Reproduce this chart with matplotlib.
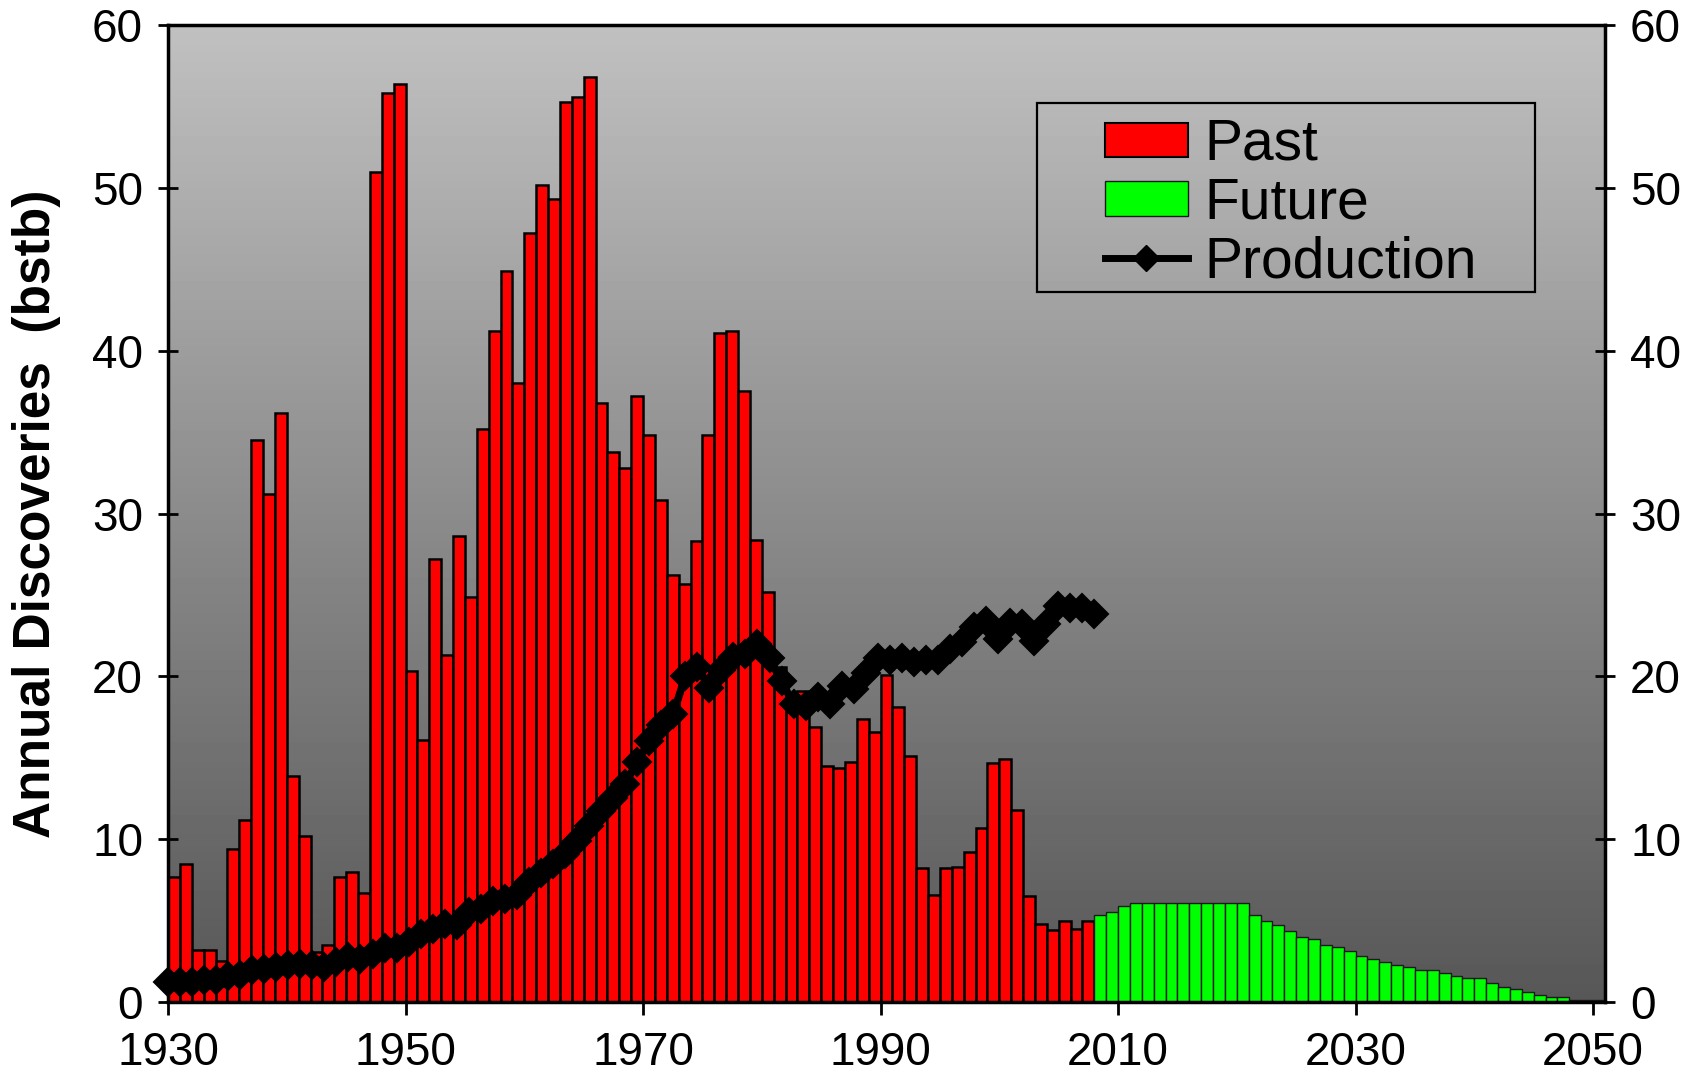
import numpy as np
import matplotlib
matplotlib.use('Agg')
import matplotlib.pyplot as plt
from matplotlib.patches import Rectangle, Patch
from matplotlib.lines import Line2D

plt.rcParams['font.family'] = ['Liberation Sans', 'DejaVu Sans']

# ---------------- data ----------------
past_years = list(range(1930, 2008))
past_values = [
    7.7, 8.5, 3.2, 3.2, 2.5, 9.4, 11.2, 34.5, 31.2, 36.2,
    13.9, 10.2, 3.1, 3.5, 7.7, 8.0, 6.7, 51.0, 55.8, 56.4,
    20.3, 16.1, 27.2, 21.3, 28.6, 24.9, 35.2, 41.2, 44.9, 38.0,
    47.2, 50.2, 49.3, 55.3, 55.6, 56.8, 36.8, 33.8, 32.8, 37.2,
    34.8, 30.8, 26.2, 25.7, 28.3, 34.8, 41.1, 41.2, 37.5, 28.4,
    25.2, 20.6, 18.9, 19.1, 16.9, 14.5, 14.4, 14.75, 17.4, 16.6,
    20.1, 18.1, 15.1, 8.2, 6.6, 8.2, 8.3, 9.2, 10.7, 14.7,
    14.9, 11.8, 6.5, 4.8, 4.4, 5.0, 4.5, 5.0,
]
future_years = list(range(2008, 2051))
future_values = [
    5.35, 5.55, 5.9,
    6.05, 6.05, 6.05, 6.05, 6.05, 6.05, 6.05, 6.05, 6.05, 6.05,
    5.35, 5.0, 4.7, 4.35, 4.0, 3.85, 3.5, 3.35, 3.15, 2.8,
    2.65, 2.45, 2.3, 2.15, 1.95, 1.95, 1.8, 1.6, 1.45, 1.45,
    1.15, 0.95, 0.8, 0.6, 0.45, 0.3, 0.3, 0.1, 0.1, 0.1,
]
prod_years = list(range(1930, 2008))
prod_values = [
    1.25, 1.25, 1.25, 1.35, 1.35, 1.6, 1.65, 1.95, 2.05, 2.15,
    2.25, 2.35, 2.25, 2.15, 2.45, 2.75, 2.65, 2.95, 3.3, 3.3,
    3.7, 4.2, 4.5, 4.8, 4.7, 5.5, 5.7, 6.2, 6.3, 6.6,
    7.4, 7.9, 8.5, 9.1, 9.9, 10.8, 11.7, 12.5, 13.4, 14.75,
    16.0, 17.0, 17.7, 20.0, 20.6, 19.3, 20.4, 21.2, 21.4, 22.0,
    21.1, 19.7, 18.3, 18.2, 18.75, 18.3, 19.4, 19.2, 20.2, 21.1,
    21.0, 21.1, 20.9, 21.0, 21.0, 21.7, 22.1, 23.0, 23.4, 22.3,
    23.3, 23.2, 22.2, 23.2, 24.3, 24.2, 24.2, 23.8,
]
x_ticks = [1930, 1950, 1970, 1990, 2010, 2030, 2050]
y_ticks = [0, 10, 20, 30, 40, 50, 60]
y_label = "Annual Discoveries  (bstb)"
legend_labels = ["Past", "Future", "Production"]

# ---------------- figure ----------------
W, H = 1700, 1077
fig = plt.figure(figsize=(W / 100, H / 100), dpi=100)
ax = fig.add_axes([168 / W, 1 - 1002 / H, (1605 - 168) / W, (1002 - 25) / H])

x0, x1 = past_years[0], future_years[-1] + 1

# gradient background (light at top, dark at bottom)
grad = np.linspace(0.753, 0.34, 256).reshape(-1, 1)
ax.imshow(grad, extent=[x0, x1, 0, 60], aspect='auto', cmap='gray',
          vmin=0, vmax=1, zorder=0, origin='upper')
ax.set_xlim(x0, x1)
ax.set_ylim(0, 60)

ax.bar(np.array(past_years) + 0.5, past_values, width=1.0, color='#ff0000',
       edgecolor='black', linewidth=1.8, zorder=2)
ax.bar(np.array(future_years) + 0.5, future_values, width=1.0, color='#00ff00',
       edgecolor='#1a1a1a', linewidth=1.0, zorder=2)

prod_x = np.linspace(x0, past_years[-1] + 1, len(prod_values))
ax.plot(prod_x, prod_values, color='black', lw=5.5, marker='D', ms=14,
        mec='black', mfc='black', mew=1.5, zorder=3, clip_on=False)

# axes styling
for s in ax.spines.values():
    s.set_linewidth(2.5)
    s.set_color('black')
    s.set_zorder(5)

ax.set_xticks(x_ticks)
ax.set_yticks(y_ticks)
ax.tick_params(axis='x', direction='out', length=9, width=2, labelsize=33,
               pad=12)
ax.tick_params(axis='y', direction='inout', length=14, width=2, labelsize=33,
               pad=11, right=True, labelright=True)

ax.set_ylabel(y_label, fontsize=37, fontweight='bold')
ax.yaxis.set_label_coords(-0.0745, 0.5)

# legend
handles = [
    Patch(facecolor='#ff0000', edgecolor='black', linewidth=1.5),
    Patch(facecolor='#00ff00', edgecolor='#1a1a1a', linewidth=1.0),
    Line2D([0], [0], color='black', lw=5, marker='D', ms=13),
]
fig.legend(handles, legend_labels, loc='upper left',
           bbox_to_anchor=(1105 / W, 1 - 118 / H), frameon=False,
           fontsize=41, borderpad=0, borderaxespad=0, labelspacing=0.08,
           handlelength=1.45, handleheight=0.55, handletextpad=0.3)
fig.add_artist(Rectangle((1037 / W, 1 - 291.7 / H), (1535 - 1037) / W,
                         (291.7 - 102.7) / H, transform=fig.transFigure,
                         fill=False, edgecolor='black', linewidth=1.6))

fig.savefig('out.png', dpi=100, facecolor='white')
